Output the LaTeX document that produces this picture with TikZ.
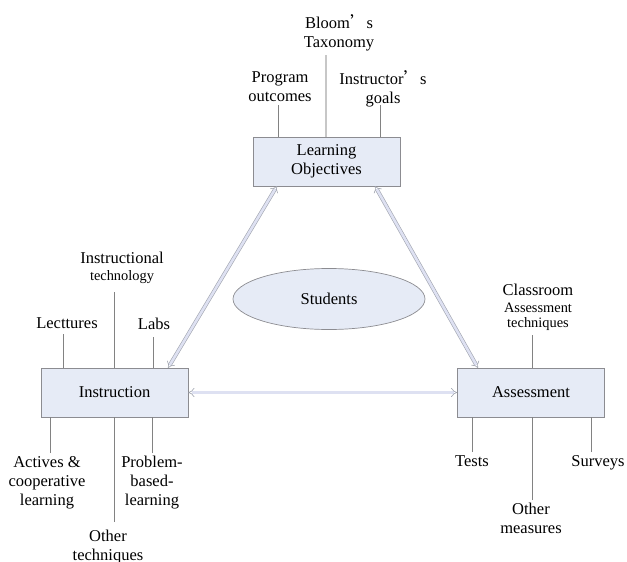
\documentclass[tikz,border=0pt]{standalone}
\usepackage{fontspec}
\setmainfont{Liberation Serif}
\newfontfamily\cjk{Noto Sans CJK SC}
\usetikzlibrary{arrows.meta,shapes.geometric}

\definecolor{boxfill}{RGB}{230,235,246}
\definecolor{boxline}{RGB}{140,140,145}
\definecolor{legline}{RGB}{130,130,130}
\definecolor{pipeline}{RGB}{160,164,175}
\definecolor{pipefill}{RGB}{222,225,242}

\newcommand{\apos}{{\cjk ’}}
\newcommand{\lesser}[1]{{\fontsize{14.4}{16}\selectfont #1}}

\tikzset{
  block/.style={draw=boxline, fill=boxfill, line width=0.7pt,
    minimum width=147pt, minimum height=49pt, align=center},
  lbl/.style={align=center, inner sep=0pt},
  leg/.style={draw=legline, line width=0.6pt},
  pipe/.style={draw=pipeline, line width=0.6pt, double=pipefill,
    double distance=2.6pt, {Implies}-{Implies}}
}

\begin{document}
\begin{tikzpicture}[x=1pt, y=-1pt,
    font=\fontsize{16.5}{19}\selectfont]
  \useasboundingbox (0,0) rectangle (627,562);

  % the three main blocks and the students in the middle
  \node [block] (obj) at (326.5,161.5) {Learning\\Objectives};
  \node [block] (instr) at (114.5,392.5) {Instruction};
  \node [block] (assess) at (531,392.5) {Assessment};
  \node [block, ellipse, minimum width=192pt, minimum height=61pt]
    (stud) at (329,299) {Students};

  % double arrows between the blocks
  \draw [pipe] (168,368) coordinate (i1) -- (277,186) coordinate (o1);
  \draw [pipe] (375,186) coordinate (o2) -- (478,368) coordinate (a1);
  \draw [pipe] (instr.east) -- (assess.west);

  % inputs to the objectives
  \node [lbl] (bloom) at (339,33) {Bloom\apos s\\Taxonomy};
  \node [lbl] (prog) at (280,87) {Program\\outcomes};
  \node [lbl] (goals) at (383,88.5) {Instructor\apos s\\goals};
  \coordinate (bt) at (326,55);
  \coordinate (po) at (278,105);
  \coordinate (ig) at (380,105);
  \draw [leg] (po) -- (po |- obj.north);
  \draw [leg] (ig) -- (ig |- obj.north);
  \draw [draw=black!22, line width=1.3pt] (bt) -- (bt |- obj.north);

  % instruction methods
  \node [lbl] (itech) at (122,268) {Instructional\\[-2pt]\lesser{technology}};
  \node [lbl] (lect) at (67,323.5) {Lecttures};
  \node [lbl] (labs) at (154,323.5) {Labs};
  \node [lbl] (act) at (47,482.7) {Actives \&\\cooperative\\learning};
  \node [lbl] (pbl) at (152,482.7) {Problem-\\based-\\learning};
  \node [lbl] (othr) at (108,547) {Other\\techniques};
  \coordinate (it) at (114,292);
  \coordinate (lec) at (63,334);
  \coordinate (lab) at (153,337);
  \coordinate (ac) at (50,453);
  \coordinate (ot) at (114,522);
  \coordinate (pb) at (152,453);
  \foreach \c in {it,lec,lab}
    \draw [leg] (\c) -- (\c |- instr.north);
  \foreach \c in {ac,ot,pb}
    \draw [leg] (\c) -- (\c |- instr.south);

  % assessment methods
  \node [lbl] (cat) at (538,307)
    {Classroom\\[-2pt]\lesser{Assessment}\\[-4pt]\lesser{techniques}};
  \node [lbl] (tests) at (472,461.5) {Tests};
  \node [lbl] (surv) at (598,463.3) {Surveys};
  \node [lbl] (meas) at (531,518) {Other\\measures};
  \coordinate (ca) at (532,335);
  \coordinate (te) at (472,452);
  \coordinate (om) at (532,500);
  \coordinate (su) at (591,452);
  \draw [leg] (ca) -- (ca |- assess.north);
  \foreach \c in {te,om,su}
    \draw [leg] (\c) -- (\c |- assess.south);
\end{tikzpicture}
\end{document}
